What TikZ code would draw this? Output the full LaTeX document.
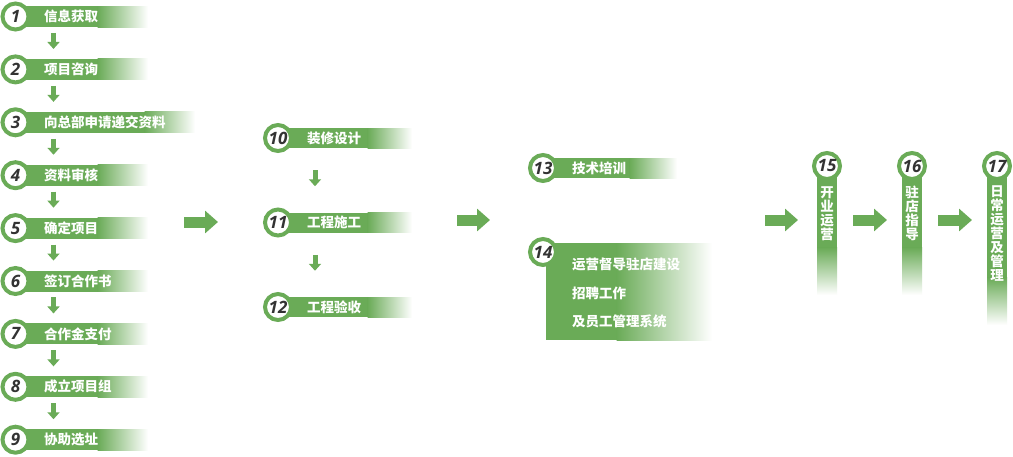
\documentclass[tikz,border=0pt]{standalone}
\usepackage{fontspec}
\usetikzlibrary{calc,arrows.meta}
\newfontfamily\cjk{Noto Sans CJK SC}
\newfontfamily\numfont{Open Sans}
\definecolor{stepgreen}{RGB}{106,171,87}
\definecolor{numgray}{RGB}{51,51,51}

\tikzset{
    numcircle/.style={circle, fill=white, draw=stepgreen, line width=4pt, minimum size=26pt, inner sep=0pt,
        text=numgray, font=\numfont\bfseries\itshape\fontsize{17}{17}\selectfont},
    steplabel/.style={anchor=west, inner sep=0pt, text=white, font=\cjk\bfseries\fontsize{13.5}{14}\selectfont},
    vlabel/.style={anchor=north, inner sep=0pt, text=white, align=center, text width=14pt,
        font=\cjk\bfseries\fontsize{13.5}{14}\selectfont},
    downarrow/.style={stepgreen, line width=5pt, -{Triangle[width=12pt,length=7pt]}},
    bigarrow/.style={stepgreen, line width=11pt, -{Triangle[width=22pt,length=13pt]}}
}

\begin{document}
\begin{tikzpicture}[x=1pt, y=-1pt]
    \fill[white] (0,0) rectangle (1013,456);
    \useasboundingbox (0,0) rectangle (1013,456);

    % left column
    \foreach \i/\txt/\barend in {1/信息获取/148, 2/项目咨询/148, 3/向总部申请递交资料/195,
        4/资料审核/148, 5/确定项目/148, 6/签订合作书/148, 7/合作金支付/148, 8/成立项目组/148, 9/协助选址/148}{
        \pgfmathsetmacro\yy{16.5+52.9*(\i-1)}
        \fill[stepgreen] (15,\yy-10.5) rectangle (\barend-50,\yy+10.5);
        \shade[left color=stepgreen, right color=white] (\barend-50.5,\yy-10.5) rectangle (\barend,\yy+10.5);
        \node[numcircle] (n\i) at (15.5,\yy) {\i};
        \node[steplabel] (t\i) at (44,\yy) {\txt};
    }
    \foreach \i [evaluate=\i as \j using int(\i+1)] in {1,...,8}
        \draw[downarrow] ($(n\i)!.5!(n\j)+(38,-10)$) -- ($(n\i)!.5!(n\j)+(38,6)$);

    % middle column
    \foreach \i/\txt/\yy in {10/装修设计/138, 11/工程施工/222.5, 12/工程验收/307}{
        \fill[stepgreen] (278,\yy-10) rectangle (368,\yy+10);
        \shade[left color=stepgreen, right color=white] (367.5,\yy-10) rectangle (412,\yy+10);
        \node[numcircle] (n\i) at (278,\yy) {\i};
        \node[steplabel] (t\i) at (307,\yy) {\txt};
    }
    \draw[downarrow] ($(n10)!.5!(n11)+(37,-10)$) -- ($(n10)!.5!(n11)+(37,6)$);
    \draw[downarrow] ($(n11)!.5!(n12)+(37,-10)$) -- ($(n11)!.5!(n12)+(37,6)$);

    % training and support
    \fill[stepgreen] (543,158) rectangle (630,178);
    \shade[left color=stepgreen, right color=white] (629.5,158) rectangle (677,178);
    \node[numcircle] (n13) at (543,168) {13};
    \node[steplabel] (t13) at (572,168) {技术培训};

    \fill[stepgreen] (546,243) rectangle (617,340);
    \shade[left color=stepgreen, right color=white] (616.5,243) rectangle (712,340);
    \node[numcircle] (n14) at (543,252) {14};
    \node[steplabel, align=left, font=\cjk\bfseries\fontsize{13.5}{28.5}\selectfont] (t14) at (572,293)
        {运营督导驻店建设\\招聘工作\\及员工管理系统};

    % opening steps
    \foreach \i/\xx/\txt/\barend in {15/827/开\\业\\运\\营/295, 16/912/驻\\店\\指\\导/295,
        17/997/日\\常\\运\\营\\及\\管\\理/325}{
        \fill[stepgreen] (\xx-10,166) rectangle (\xx+10,\barend-47);
        \shade[top color=stepgreen, bottom color=white] (\xx-10,\barend-47.5) rectangle (\xx+10,\barend);
        \node[numcircle] (n\i) at (\xx,166) {\i};
        \node[vlabel] (t\i) at (\xx,186) {\txt};
    }

    % arrows between stages
    \foreach \xs/\xe/\yy [count=\k] in {184/218/222, 457/490/220, 765/798/220, 853/887/220, 938/972/220}{
        \coordinate (go\k a) at (\xs,\yy);
        \coordinate (go\k b) at (\xe,\yy);
        \draw[bigarrow] (go\k a) -- (go\k b);
    }
\end{tikzpicture}
\end{document}
